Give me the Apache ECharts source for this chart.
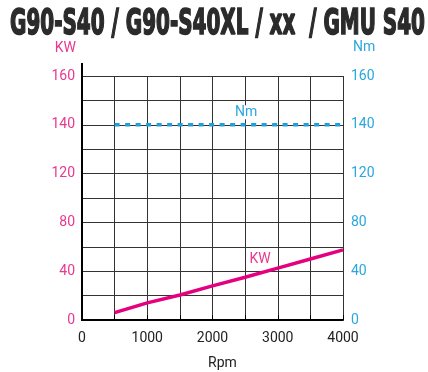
<!DOCTYPE html>
<html><head><meta charset="utf-8">
<script src="https://cdn.jsdelivr.net/npm/echarts@6/dist/echarts.min.js"></script>
<style>html,body{margin:0;padding:0;background:#fff}#c{width:428px;height:372px}</style>
</head><body><div id="c"></div>
<script>
// ---- data ----
const titleText = 'G90-S40 / G90-S40XL / xx  / GMU S40';
const rpm = [500, 1000, 1500, 2000, 2500, 3000, 3500, 4000];
const kw = [6, 14, 20.5, 28, 35, 42.5, 50, 57.5];
const nmRpm = [500, 2500, 4000];
const nm = [140, 140, 140];
const xTickLabels = [0, 1000, 2000, 3000, 4000];
const kwTickLabels = [0, 40, 80, 120, 140, 160];
const nmTickLabels = [0, 40, 80, 120, 140, 160];
const kwLabelAt = 2500;
const nmLabelAt = 2500;

// piecewise scale of the original chart: 0-120 linear, 120-160 stretched x2
function axisPos(v) { return v <= 120 ? v : 120 + (v - 120) * 2; }

const MAG = '#e4007f', MAG_T = '#e8388f', CY = '#1ea0da', CY_T = '#2aa7df';
const FONT = 'Roboto';

function tickFmt(list) {
  return function (val) {
    for (const t of list) if (Math.abs(axisPos(t) - val) < 1e-6) return String(t);
    return '';
  };
}

// title width fit
const titleFont = 'bold 35px "DejaVu Sans Condensed", sans-serif';
const cv = document.createElement('canvas').getContext('2d');
cv.font = titleFont;
const tw = cv.measureText(titleText).width;
const sx = 415 / tw;

const chart = echarts.init(document.getElementById('c'), null, {renderer: 'canvas'});
chart.setOption({
  animation: false,
  backgroundColor: '#fff',
  graphic: [{
    type: 'text', x: 10, y: 24.5, scaleX: sx, scaleY: 1,
    style: {
      text: titleText, font: titleFont, fill: '#2b2b2b',
      stroke: '#2b2b2b', lineWidth: 1.6,
      verticalAlign: 'middle', align: 'left',
      shadowColor: 'rgba(0,0,0,0.45)', shadowBlur: 2, shadowOffsetX: 1, shadowOffsetY: 1
    }
  }, {
    type: 'text', x: 76, y: 48,
    style: {text: 'KW', font: '14px Roboto', fill: MAG_T, align: 'right', verticalAlign: 'middle'}
  }, {
    type: 'text', x: 353, y: 47,
    style: {text: 'Nm', font: '14px Roboto', fill: CY_T, align: 'left', verticalAlign: 'middle'}
  }],
  grid: {left: 82, right: 85, top: 76, bottom: 52, outerBoundsMode: 'none', containLabel: false},
  xAxis: [{
    type: 'value', min: 0, max: 4000, interval: 500,
    name: 'Rpm', nameLocation: 'middle', nameGap: 36,
    nameTextStyle: {color: '#222', fontFamily: FONT, fontSize: 14, padding: [0, 0, 0, 20]},
    axisLine: {show: true, lineStyle: {color: '#000', width: 2}},
    axisTick: {show: false},
    axisLabel: {color: '#222', fontFamily: FONT, fontSize: 14, margin: 11,
      formatter: v => xTickLabels.includes(v) ? String(v) : ''},
    splitLine: {show: true, lineStyle: {color: '#333', width: 1}}
  }, {
    type: 'value', position: 'top', min: 0, max: 4000, interval: 500,
    axisLine: {show: false},
    axisTick: {show: true, length: 5, lineStyle: {color: '#000', width: 1}},
    axisLabel: {show: false}, splitLine: {show: false}
  }],
  yAxis: [{
    type: 'value', min: 0, max: 200, interval: 20, position: 'left',
    axisLine: {show: true, symbol: ['none', 'rect'], symbolSize: [2, 26], lineStyle: {color: '#000', width: 2}},
    axisTick: {show: false},
    axisLabel: {color: MAG_T, fontFamily: FONT, fontSize: 14, margin: 7, formatter: tickFmt(kwTickLabels)},
    splitLine: {show: true, lineStyle: {color: '#333', width: 1}}
  }, {
    type: 'value', min: 0, max: 200, interval: 20, position: 'right',
    axisLine: {show: true, symbol: ['none', 'rect'], symbolSize: [2, 8], lineStyle: {color: '#000', width: 2}},
    axisTick: {show: false},
    axisLabel: {color: CY_T, fontFamily: FONT, fontSize: 14, margin: 8, formatter: tickFmt(nmTickLabels)},
    splitLine: {show: false}
  }],
  series: [{
    type: 'line', xAxisIndex: 0, yAxisIndex: 1, symbol: 'circle', symbolSize: 1, showSymbol: true,
    itemStyle: {color: 'rgba(0,0,0,0)'},
    lineStyle: {color: CY, width: 3.5, type: [5, 5.5]},
    data: nmRpm.map((r, i) => r === nmLabelAt ? {
      value: [r, axisPos(nm[i])],
      label: {show: true, formatter: 'Nm', position: 'top', distance: 5, offset: [1, 0], color: CY_T,
        fontFamily: FONT, fontSize: 14, backgroundColor: '#fff', padding: [0, 1, 0, 1]}
    } : [r, axisPos(nm[i])]),
    z: 3
  }, {
    type: 'line', xAxisIndex: 0, yAxisIndex: 0, symbol: 'circle', symbolSize: 1, showSymbol: true,
    itemStyle: {color: 'rgba(0,0,0,0)'},
    lineStyle: {color: MAG, width: 3.5},
    data: rpm.map((r, i) => r === kwLabelAt ? {
      value: [r, axisPos(kw[i])],
      label: {show: true, formatter: 'KW', position: 'top', distance: 10, offset: [15, 0], color: MAG_T,
        fontFamily: FONT, fontSize: 14}
    } : [r, axisPos(kw[i])]),
    z: 4
  }]
});
</script>
</body></html>
